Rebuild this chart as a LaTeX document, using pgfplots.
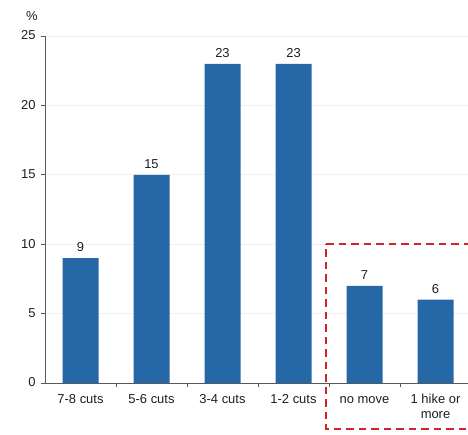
\documentclass[border=0pt]{standalone}
\usepackage{pgfplots}
\pgfplotsset{compat=1.18}
\usepackage{fontspec}
\setmainfont{Liberation Sans}

\definecolor{barblue}{RGB}{38,103,166}
\definecolor{boxred}{RGB}{208,35,42}
\definecolor{axisgray}{RGB}{89,89,89}
\definecolor{gridgray}{RGB}{240,240,240}
\definecolor{txt}{RGB}{30,30,30}

\begin{document}
\begin{tikzpicture}
\begin{axis}[
  at={(45bp,52bp)}, anchor=south west,
  scale only axis,
  width=426bp, height=347bp,
  xmin=-0.5, xmax=5.5,
  ymin=0, ymax=25,
  ytick={0,5,...,25},
  xtick={0,...,5},
  xticklabels={7-8 cuts,5-6 cuts,3-4 cuts,1-2 cuts,no move,{1 hike or\\more}},
  minor xtick={0.5,1.5,2.5,3.5,4.5},
  axis x line*=bottom,
  axis y line*=left,
  axis line style={axisgray, line width=0.9pt, -},
  tick align=outside,
  major tick length=4bp,
  minor tick length=4bp,
  xtick style={draw=none},
  ytick style={axisgray, line width=0.9pt},
  minor x tick style={draw=axisgray, line width=0.9pt},
  ymajorgrids,
  major grid style={gridgray, line width=0.7pt},
  /pgf/number format/assume math mode=true,
  tick label style={font=\fontsize{13}{15}\selectfont, text=txt},
  typeset ticklabels with strut,
  xticklabel style={align=center, anchor=north, yshift=-3bp},
  yticklabel style={xshift=-2bp, yshift=-1bp},
  ybar, bar width=36bp,
  clip=false,
  nodes near coords,
  nodes near coords style={font=\fontsize{13}{15}\selectfont, text=txt, yshift=3bp,
    /pgf/number format/assume math mode=true},
]
\addplot[fill=barblue, draw=none] coordinates {(0,9) (1,15) (2,23) (3,23) (4,7) (5,6)};
\node[font=\fontsize{13}{15}\selectfont, text=txt] at (rel axis cs:0,1) [xshift=-13bp, yshift=20bp] {\%};
\draw[boxred, line width=1.8pt, dash pattern=on 7.5bp off 5bp]
  (axis cs:3.46,10) -- (axis cs:5.7,10) -- (axis cs:5.7,-3.31) -- (axis cs:3.46,-3.31) -- cycle;
\end{axis}
\pgfresetboundingbox
\useasboundingbox (0,0) rectangle (468bp,435bp);
\end{tikzpicture}
\end{document}
